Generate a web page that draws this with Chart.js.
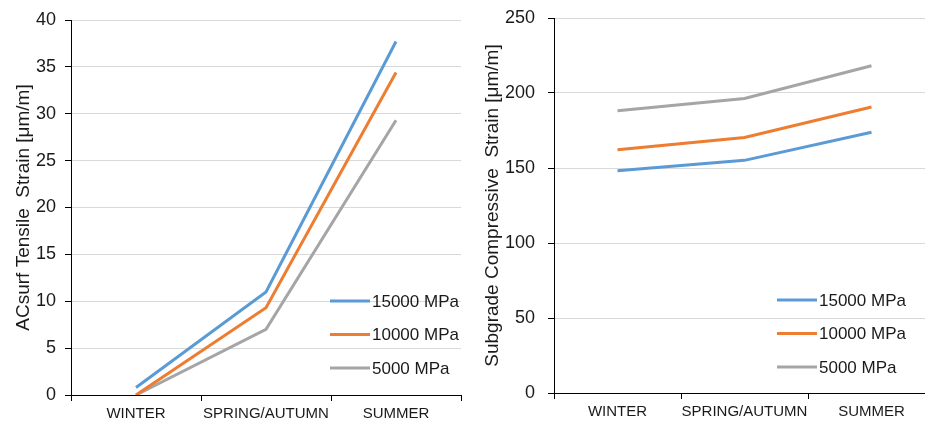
<!DOCTYPE html>
<html>
<head>
<meta charset="utf-8">
<script src="https://cdn.jsdelivr.net/npm/chart.js@4.4.0/dist/chart.umd.min.js"></script>
<style>
  html, body { margin: 0; padding: 0; background: #fff; overflow: hidden; }
  #wrap { position: relative; width: 925px; height: 426px; overflow: hidden; }
  .box { position: absolute; top: 0; height: 426px; }
</style>
</head>
<body>
<div id="wrap">
  <div class="box" style="left:0;width:470px"><canvas id="left"></canvas></div>
  <div class="box" style="left:470px;width:470px"><canvas id="right"></canvas></div>
</div>
<script>
// categories and series
const seasons = ['WINTER', 'SPRING/AUTUMN', 'SUMMER'];
const seriesNames = ['15000 MPa', '10000 MPa', '5000 MPa'];
const seriesColors = ['#5B9BD5', '#ED7D31', '#A5A5A5'];

// ACsurf tensile strain [µm/m]
const tensile15000 = [0.8, 11.0, 37.7];
const tensile10000 = [0.0, 9.3, 34.4];
const tensile5000 = [0.0, 7.0, 29.3];

// subgrade compressive strain [µm/m]
const subgrade15000 = [148.2, 155.1, 173.8];
const subgrade10000 = [162.2, 170.4, 190.7];
const subgrade5000 = [188.2, 196.4, 218.2];

const FONT = "'Liberation Sans Narrow', 'Liberation Sans', Arial, sans-serif";
const TXT = '#1a1a1a';

// legend drawn inside the plot, bottom right
const insideLegend = {
  id: 'insideLegend',
  afterDraw(chart, args, opts) {
    const ctx = chart.ctx;
    ctx.save();
    ctx.font = '17px ' + FONT;
    ctx.fillStyle = TXT;
    ctx.textBaseline = 'middle';
    chart.data.datasets.forEach((ds, i) => {
      const y = opts.y + i * opts.gap;
      ctx.strokeStyle = ds.borderColor;
      ctx.lineWidth = 3;
      ctx.beginPath();
      ctx.moveTo(opts.x, y);
      ctx.lineTo(opts.x + 40, y);
      ctx.stroke();
      ctx.fillText(ds.label, opts.x + 42, y + 1);
    });
    ctx.restore();
  }
};

function makeChart(id, values, yMax, yStep, title, pad, yWidth, xHeight, tickPad, legendPos) {
  new Chart(document.getElementById(id), {
    type: 'line',
    data: {
      labels: seasons,
      datasets: values.map((v, i) => ({
        label: seriesNames[i],
        data: v,
        borderColor: seriesColors[i],
        backgroundColor: seriesColors[i],
        borderWidth: 3,
        pointRadius: 0,
        tension: 0,
        fill: false
      }))
    },
    options: {
      responsive: true,
      maintainAspectRatio: false,
      animation: false,
      layout: { padding: pad },
      plugins: {
        legend: { display: false },
        tooltip: { enabled: false },
        insideLegend: legendPos
      },
      scales: {
        x: {
          offset: true,
          grid: {
            offset: true,
            drawOnChartArea: false,
            drawTicks: true,
            tickLength: 6,
            tickColor: '#000'
          },
          border: { display: true, color: '#000', width: 1 },
          ticks: { color: TXT, font: { family: FONT, size: 15 }, padding: 4, maxRotation: 0, autoSkip: false },
          afterFit(s) { s.height = xHeight; }
        },
        y: {
          min: 0,
          max: yMax,
          ticks: { stepSize: yStep, color: TXT, font: { family: FONT, size: 18 }, padding: tickPad },
          grid: { color: '#d9d9d9', tickColor: '#000', tickLength: 6 },
          border: { display: true, color: '#000', width: 1 },
          title: { display: true, text: title, color: TXT, font: { family: FONT, size: 19 }, padding: 2 },
          afterFit(s) {
            s.width = yWidth;
            // keep the plot top/bottom set by the layout padding only
            s.paddingTop = 0;
            s.paddingBottom = 0;
          }
        }
      }
    },
    plugins: [insideLegend]
  });
}

makeChart('left', [tensile15000, tensile10000, tensile5000], 40, 5,
  'ACsurf Tensile  Strain [μm/m]',
  { top: 20, right: 9, left: 10, bottom: 0 }, 61, 31, 9,
  { x: 330, y: 301, gap: 33.5 });

makeChart('right', [subgrade15000, subgrade10000, subgrade5000], 250, 50,
  'Subgrade Compressive  Strain [μm/m]',
  { top: 18, right: 5, left: 9, bottom: 0 }, 75, 33, 13,
  { x: 307, y: 300, gap: 33.5 });
</script>
</body>
</html>
